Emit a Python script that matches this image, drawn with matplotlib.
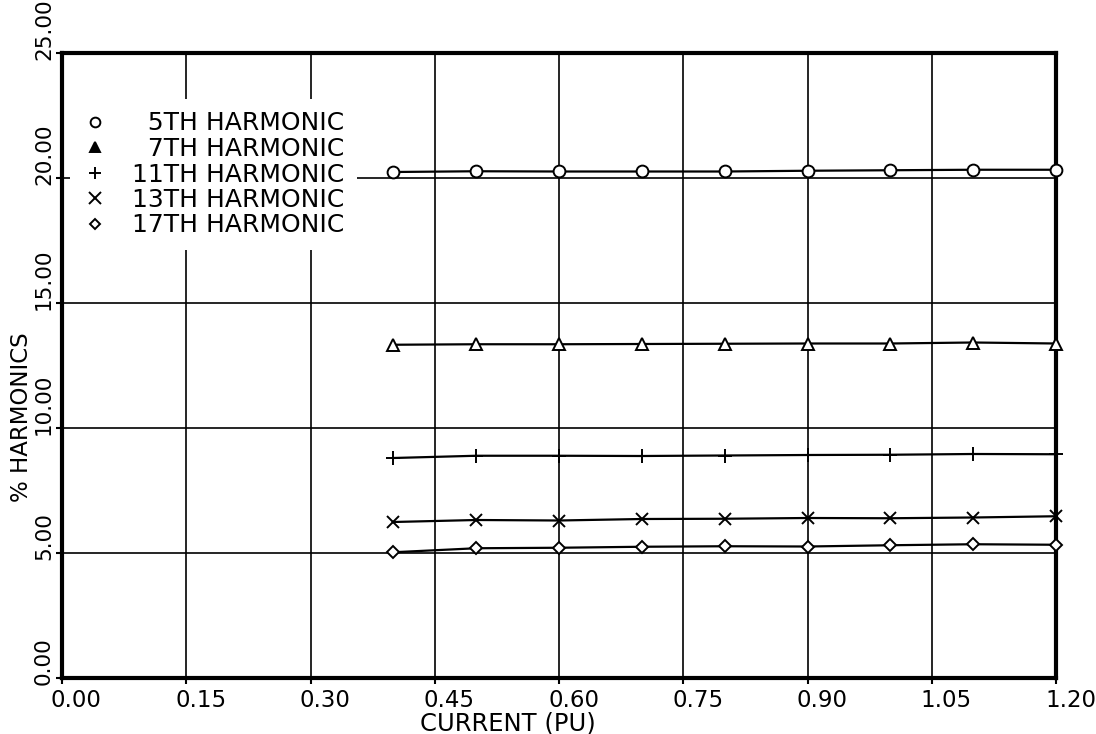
import numpy as np
import matplotlib
matplotlib.use("Agg")
from matplotlib import pyplot as plt
from matplotlib import transforms
from matplotlib.lines import Line2D

# current in per unit, harmonic content in percent of fundamental
current = [0.40, 0.50, 0.60, 0.70, 0.80, 0.90, 1.00, 1.10, 1.20]
h5 = [20.24, 20.27, 20.26, 20.26, 20.26, 20.29, 20.31, 20.33, 20.33]
h7 = [13.33, 13.35, 13.35, 13.36, 13.37, 13.38, 13.38, 13.42, 13.38]
h11 = [8.80, 8.89, 8.89, 8.88, 8.90, 8.92, 8.93, 8.96, 8.95]
h13 = [6.24, 6.32, 6.30, 6.36, 6.37, 6.40, 6.39, 6.42, 6.47]
h17 = [5.03, 5.19, 5.21, 5.25, 5.27, 5.26, 5.31, 5.35, 5.33]

labels = ["\u20075TH HARMONIC", "\u20077TH HARMONIC", "11TH HARMONIC",
          "13TH HARMONIC", "17TH HARMONIC"]
x_ticks = np.arange(0, 1.21, 0.15)
y_ticks = np.arange(0, 26, 5)

plt.rcParams['font.family'] = 'DejaVu Sans'

fig = plt.figure(figsize=(10.96, 7.34), dpi=100)
ax = fig.add_axes([62 / 1096, 1 - 678 / 734, 994 / 1096, 625 / 734])

series = [h5, h7, h11, h13, h17]
markers = ['o', '^', '+', 'x', 'D']
msize = [8.5, 8.5, 10, 9, 6]
for y, m, s in zip(series, markers, msize):
    ax.plot(current, y, color='k', lw=1.6, marker=m, ms=s, mfc='white',
            mec='k', mew=1.4, clip_on=False, zorder=3)

ax.set_xlim(0, 1.2)
ax.set_ylim(0, 25)
ax.set_axisbelow(True)
ax.grid(True, color='k', lw=1.2)
for sp in ax.spines.values():
    sp.set_linewidth(3)

ax.tick_params(direction='out', length=4.3, width=1.5, color='k')
ax.tick_params(axis='x', pad=3.6)
ax.tick_params(axis='y', pad=1.5)

ax.set_xticks(x_ticks)
ax.set_xticklabels([f"{v:.2f}" for v in x_ticks], fontsize=16.5, ha='left')
ax.set_yticks(y_ticks)
ax.set_yticklabels([f"{v:.2f}" for v in y_ticks], fontsize=15.5,
                   rotation=90, va='bottom', ha='right')

xshift = transforms.ScaledTranslation(-11 / 100, 0, fig.dpi_scale_trans)
for lab in ax.get_xticklabels():
    lab.set_transform(lab.get_transform() + xshift)
yshift = transforms.ScaledTranslation(0, -7 / 100, fig.dpi_scale_trans)
for lab in ax.get_yticklabels():
    lab.set_transform(lab.get_transform() + yshift)

ax.set_xlabel("CURRENT (PU)", fontsize=17.5, ha='left')
ax.xaxis.set_label_coords((420 - 62) / 994, -0.053)
ax.set_ylabel("% HARMONICS", fontsize=16.5)
ax.yaxis.set_label_coords(-0.029, 0.4168)

# marker-only legend, white box hides the grid behind it
fill = ['white', 'k', 'k', 'k', 'white']
lsize = [7, 7, 9, 8, 5.5]
handles = [Line2D([], [], ls='none', marker=m, ms=s, color='k', mfc=f, mew=1.4)
           for m, s, f in zip(markers, lsize, fill)]
leg = ax.legend(handles, labels, loc='upper left',
                bbox_to_anchor=(8 / 994, (678 - 99) / 625), borderaxespad=0,
                fontsize=18, handlelength=1.0, handletextpad=0.98,
                labelspacing=0.06, borderpad=0.5, frameon=True,
                facecolor='white', edgecolor='none', framealpha=1,
                fancybox=False)

fig.savefig("out.png", dpi=100)
